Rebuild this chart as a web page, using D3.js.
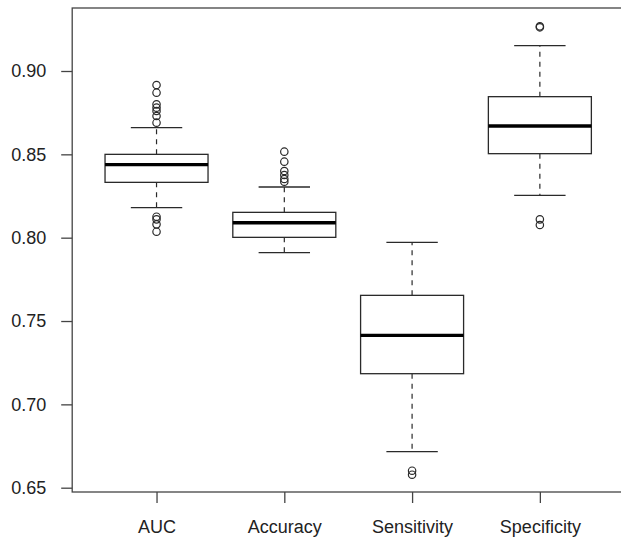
<!DOCTYPE html>
<html>
<head>
<meta charset="utf-8">
<script src="https://cdn.jsdelivr.net/npm/d3@7"></script>
<style>
  body { margin: 0; background: #fff; }
  text { font-family: "Liberation Sans", Arial, sans-serif; font-size: 18px; fill: #222; }
</style>
</head>
<body>
<div id="main"></div>
<script>
const categories = ['AUC', 'Accuracy', 'Sensitivity', 'Specificity'];

// box stats: lower whisker, q1, median, q3, upper whisker
const whiskerLow  = [0.818, 0.791, 0.6716, 0.8254];
const q1          = [0.8332, 0.8002, 0.7184, 0.8504];
const medians     = [0.8438, 0.809, 0.7414, 0.867];
const q3          = [0.850, 0.8152, 0.7654, 0.8846];
const whiskerHigh = [0.866, 0.8304, 0.7972, 0.9152];

const outliers = [
  [0.8916, 0.887, 0.880, 0.878, 0.876, 0.873, 0.869, 0.8126, 0.811, 0.808, 0.8036],
  [0.8516, 0.8456, 0.840, 0.8376, 0.8352, 0.8336],
  [0.6602, 0.6578],
  [0.9262, 0.9268, 0.811, 0.8076]
];

const yTicks = [0.65, 0.70, 0.75, 0.80, 0.85, 0.90];

const width = 621, height = 538;
const plotLeft = 72.2, plotRight = 624.2, plotTop = 8, plotBottom = 492;

const svg = d3.select('#main').append('svg')
  .attr('width', width).attr('height', height);

const x = d3.scalePoint()
  .domain(categories)
  .range([plotLeft, plotRight])
  .padding(0.66);

const y = d3.scaleLinear()
  .domain([0.65, 0.90])
  .range([487.7, 71]);

const boxHalf = 51.5, capHalf = 25.7;
const ink = '#2a2a2a';

// frame
svg.append('rect')
  .attr('x', plotLeft).attr('y', plotTop)
  .attr('width', plotRight - plotLeft).attr('height', plotBottom - plotTop)
  .attr('fill', 'none').attr('stroke', '#444').attr('stroke-width', 1.3);

// axes
const yAxis = d3.axisLeft(y).tickValues(yTicks).tickFormat(d3.format('.2f'))
  .tickSize(11).tickPadding(15);
const xAxis = d3.axisBottom(x).tickSize(11).tickPadding(17);

const gy = svg.append('g').attr('transform', `translate(${plotLeft},0)`).call(yAxis);
const gx = svg.append('g').attr('transform', `translate(0,${plotBottom})`).call(xAxis);

[gy, gx].forEach(g => {
  g.attr('font-size', null).attr('font-family', null);
  g.select('.domain').remove();
  g.selectAll('.tick line').attr('stroke', '#444').attr('stroke-width', 1.3);
  g.selectAll('.tick text').attr('fill', '#222');
});

// boxes
const boxes = svg.append('g').selectAll('g')
  .data(categories)
  .join('g');

boxes.each(function (c, i) {
  const g = d3.select(this);
  const cx = x(c);

  // whiskers
  g.append('line')
    .attr('x1', cx).attr('x2', cx)
    .attr('y1', y(q3[i])).attr('y2', y(whiskerHigh[i]))
    .attr('stroke', ink).attr('stroke-width', 1.2).attr('stroke-dasharray', '5,5');
  g.append('line')
    .attr('x1', cx).attr('x2', cx)
    .attr('y1', y(q1[i])).attr('y2', y(whiskerLow[i]))
    .attr('stroke', ink).attr('stroke-width', 1.2).attr('stroke-dasharray', '5,5');

  // caps
  [whiskerLow[i], whiskerHigh[i]].forEach(v => {
    g.append('line')
      .attr('x1', cx - capHalf).attr('x2', cx + capHalf)
      .attr('y1', y(v)).attr('y2', y(v))
      .attr('stroke', ink).attr('stroke-width', 1.3);
  });

  // box
  g.append('rect')
    .attr('x', cx - boxHalf).attr('width', boxHalf * 2)
    .attr('y', y(q3[i])).attr('height', y(q1[i]) - y(q3[i]))
    .attr('fill', '#fff').attr('stroke', ink).attr('stroke-width', 1.3);

  // median
  g.append('line')
    .attr('x1', cx - boxHalf).attr('x2', cx + boxHalf)
    .attr('y1', y(medians[i])).attr('y2', y(medians[i]))
    .attr('stroke', '#000').attr('stroke-width', 3.4);

  // outliers
  g.selectAll('circle')
    .data(outliers[i])
    .join('circle')
    .attr('cx', cx).attr('cy', d => y(d)).attr('r', 3.7)
    .attr('fill', 'none').attr('stroke', ink).attr('stroke-width', 1.2);
});
</script>
</body>
</html>
